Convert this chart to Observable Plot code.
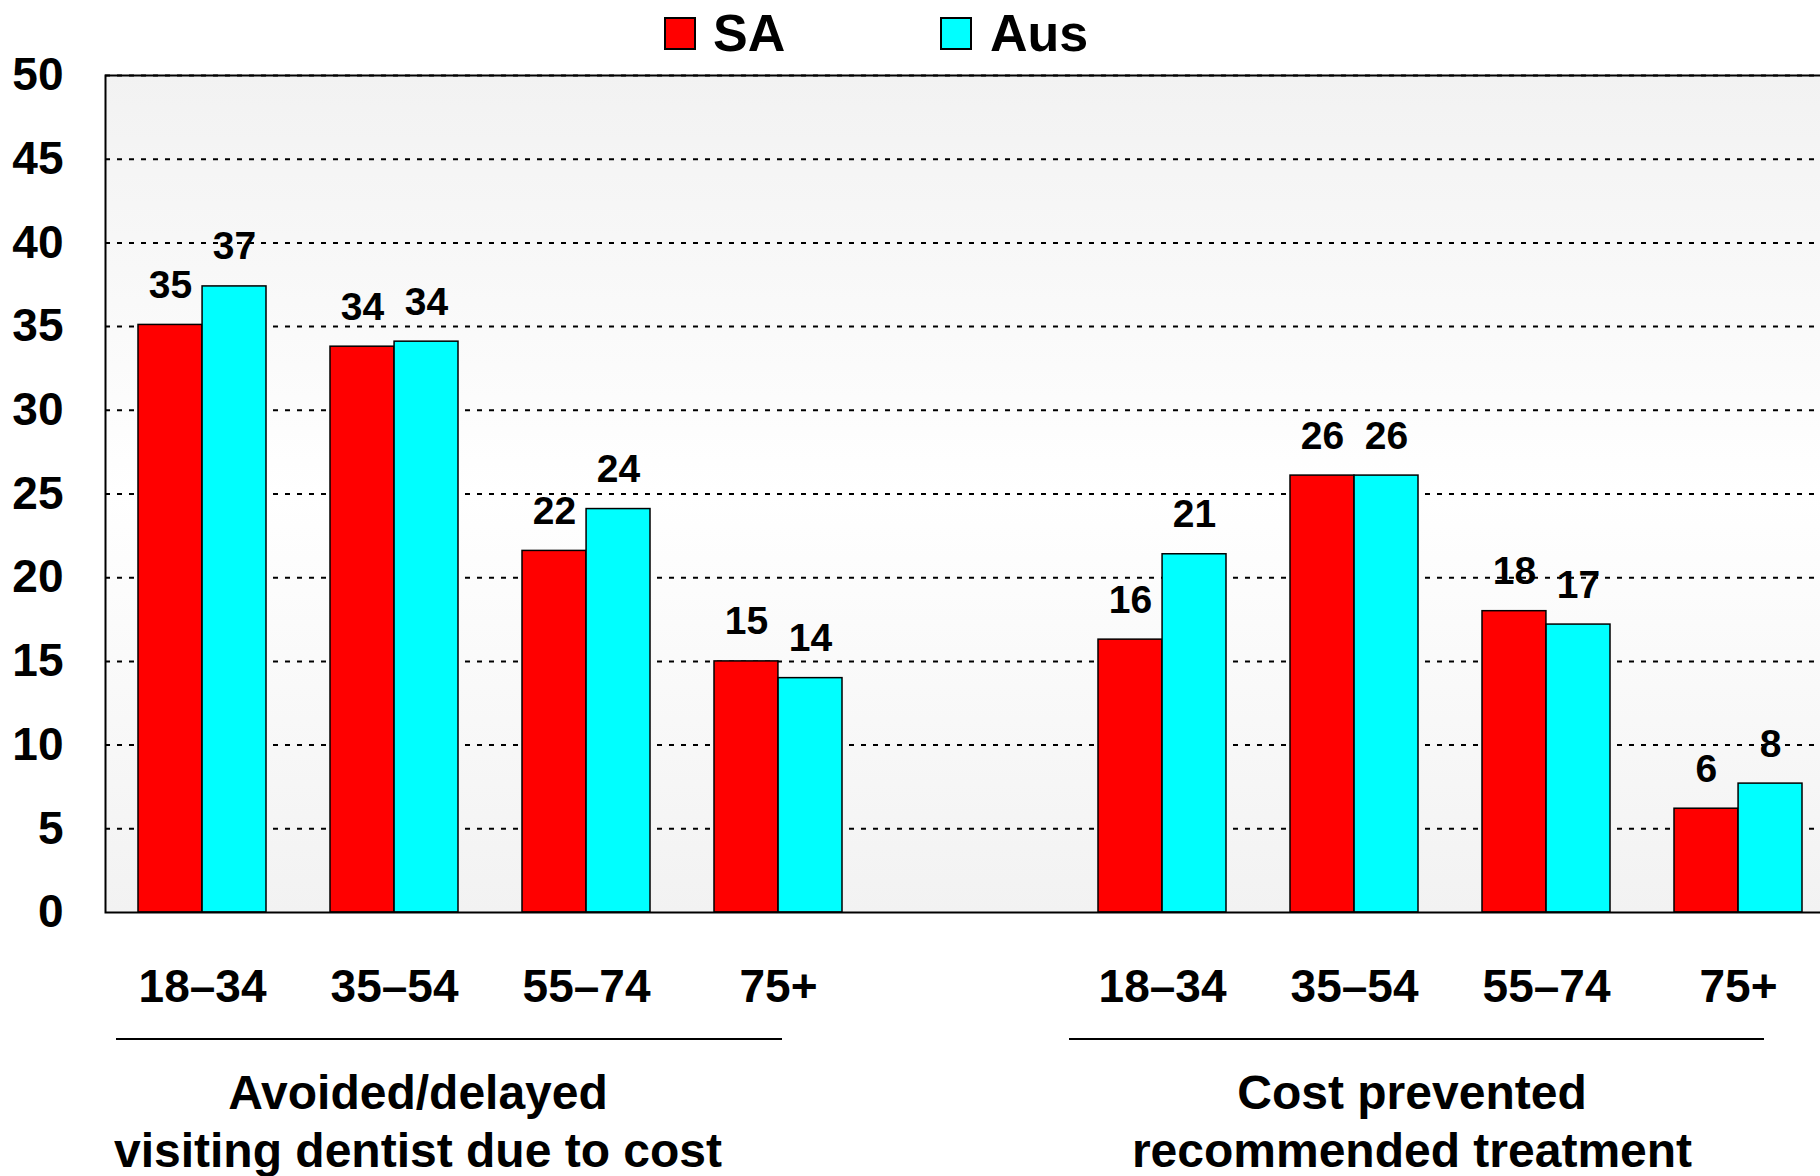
<!DOCTYPE html>
<html><head><meta charset="utf-8">
<script src="https://cdn.jsdelivr.net/npm/d3@7"></script>
<script src="https://cdn.jsdelivr.net/npm/@observablehq/plot@0.6"></script>
<style>
html,body{margin:0;padding:0;background:#fff;overflow:hidden;}
body{position:relative;width:1820px;height:1176px;font-family:"Liberation Sans",Arial,sans-serif;font-weight:bold;color:#000;}
#legend{position:absolute;top:0;left:0;width:1820px;height:56px;z-index:2;}
.sw{position:absolute;top:17px;width:32px;height:33px;box-sizing:border-box;border:2px solid #000;}
.lt{position:absolute;top:7px;font-size:52px;line-height:52px;}
#captions{position:relative;height:156px;}
.cl{position:absolute;top:18px;height:2px;background:#000;}
.ct{position:absolute;top:44px;width:700px;text-align:center;font-size:48px;line-height:58px;}
</style></head><body>
<div id="legend"></div>
<div id="chart"></div>
<div id="captions"></div>
<script>
// ---- data ----
const groupLines = [
  ["Avoided/delayed", "visiting dentist due to cost"],
  ["Cost prevented", "recommended treatment"]
];
const ages = ["18–34", "35–54", "55–74", "75+"];
const seriesNames = ["SA", "Aus"];
const seriesColors = ["#ff0000", "#00ffff"];
const saValues  = [35.1, 33.8, 21.6, 15.0, 16.3, 26.1, 18.0, 6.2];
const ausValues = [37.4, 34.1, 24.1, 14.0, 21.4, 26.1, 17.2, 7.7];
const yTicks = [0, 5, 10, 15, 20, 25, 30, 35, 40, 45, 50];

// ---- build table ----
const slotKey = (g, a) => `${g}|${a}`;
const slots = [...ages.map(a => slotKey(0, a)), "gap", ...ages.map(a => slotKey(1, a))];
const rows = [];
groupLines.forEach((g, gi) => ages.forEach((a, ai) => {
  const i = gi * ages.length + ai;
  rows.push({slot: slotKey(gi, a), series: seriesNames[0], value: saValues[i]});
  rows.push({slot: slotKey(gi, a), series: seriesNames[1], value: ausValues[i]});
}));
const saRows = rows.filter(d => d.series === seriesNames[0]);
const ausRows = rows.filter(d => d.series === seriesNames[1]);

// ---- layout ----
const width = 1820, height = 1020;
const marginLeft = 105, marginRight = -15, marginTop = 75, marginBottom = 108;
const paddingInner = 1 / 3, paddingOuter = 1 / 6;
const step = (width - marginRight - marginLeft) / (slots.length - paddingInner + 2 * paddingOuter);
const half = step * (1 - paddingInner) / 2;

// ---- legend ----
const legend = document.getElementById("legend");
const legendPos = [[664, 713], [940, 990]];
seriesNames.forEach((s, i) => {
  const sw = document.createElement("div");
  sw.className = "sw"; sw.style.left = legendPos[i][0] + "px"; sw.style.background = seriesColors[i];
  const t = document.createElement("div");
  t.className = "lt"; t.style.left = legendPos[i][1] + "px"; t.textContent = s;
  legend.append(sw, t);
});

// ---- chart ----
const fmt = d => String(Math.round(d.value));
const chart = Plot.plot({
  width, height, marginLeft, marginRight, marginTop, marginBottom,
  style: {fontFamily: "'Liberation Sans', Arial, sans-serif", fontWeight: "bold", fontSize: "46px", background: "transparent", color: "#000"},
  x: {domain: slots, paddingInner, paddingOuter, tickSize: 0, tickPadding: 57, label: null,
      tickFormat: d => d === "gap" ? "" : d.split("|")[1]},
  y: {domain: [0, 50], ticks: yTicks, tickSize: 0, tickPadding: 42, label: null},
  color: {domain: seriesNames, range: seriesColors},
  marks: [
    Plot.frame({fill: "url(#bgGrad)"}),
    Plot.ruleY(yTicks.filter(d => d > 0), {stroke: "#000", strokeWidth: 2, strokeDasharray: "5,7"}),
    Plot.barY(saRows, {x: "slot", y: "value", fill: "series", stroke: "#000", strokeWidth: 1.5, insetRight: half}),
    Plot.barY(ausRows, {x: "slot", y: "value", fill: "series", stroke: "#000", strokeWidth: 1.5, insetLeft: half}),
    Plot.frame({stroke: "#000", strokeWidth: 2}),
    Plot.text(saRows, {x: "slot", y: "value", text: fmt, dx: -half / 2, dy: -27, lineAnchor: "bottom", fontSize: 39}),
    Plot.text(ausRows, {x: "slot", y: "value", text: fmt, dx: half / 2, dy: -27, lineAnchor: "bottom", fontSize: 39})
  ]
});
const ns = "http://www.w3.org/2000/svg";
const defs = document.createElementNS(ns, "defs");
const lg = document.createElementNS(ns, "linearGradient");
lg.setAttribute("id", "bgGrad"); lg.setAttribute("x1", "0"); lg.setAttribute("y1", "0"); lg.setAttribute("x2", "0"); lg.setAttribute("y2", "1");
[["0", "#f2f2f2"], ["0.5", "#ffffff"], ["1", "#f2f2f2"]].forEach(([o, c]) => {
  const s = document.createElementNS(ns, "stop");
  s.setAttribute("offset", o); s.setAttribute("stop-color", c); lg.appendChild(s);
});
defs.appendChild(lg);
chart.insertBefore(defs, chart.firstChild);
document.getElementById("chart").appendChild(chart);

// ---- group captions ----
const captions = document.getElementById("captions");
const capLine = [[116, 666], [1069, 695]];
const capCenter = [418, 1412];
groupLines.forEach((lines, i) => {
  const l = document.createElement("div");
  l.className = "cl"; l.style.left = capLine[i][0] + "px"; l.style.width = capLine[i][1] + "px";
  const t = document.createElement("div");
  t.className = "ct"; t.style.left = (capCenter[i] - 350) + "px";
  t.innerHTML = lines.join("<br>");
  captions.append(l, t);
});
</script>
</body></html>
